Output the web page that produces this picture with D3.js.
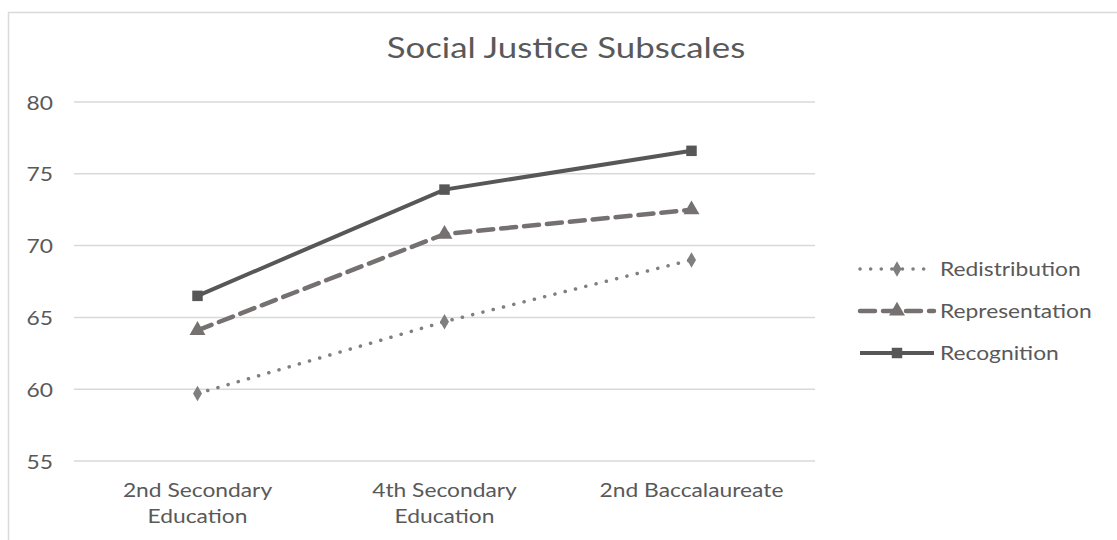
<!DOCTYPE html>
<html>
<head>
<meta charset="utf-8">
<script src="https://cdn.jsdelivr.net/npm/d3@7"></script>
<style>
  body { margin: 0; background: #fff; }
  text { font-family: Lato, "Open Sans", sans-serif; fill: #595959; }
</style>
</head>
<body>
<svg id="chart"></svg>
<script>
const width = 1117, height = 540;
const margin = { top: 102, right: 302, bottom: 79, left: 74 };
const stretch = 1.2; // text in the reference is wide

// Data
const categories = ["2nd Secondary Education", "4th Secondary Education", "2nd Baccalaureate"];
const categoryLines = [["2nd Secondary", "Education"], ["4th Secondary", "Education"], ["2nd Baccalaureate"]];
const yTicks = [55, 60, 65, 70, 75, 80];
const seriesNames = ["Redistribution", "Representation", "Recognition"];
const redistribution = [59.7, 64.7, 69.0];
const representation = [64.1, 70.8, 72.5];
const recognition = [66.5, 73.9, 76.6];

const series = [
  { name: seriesNames[0], values: redistribution, color: "#7f7f7f", width: 3.5, dash: "0.1,10.5", cap: "round", marker: "diamond" },
  { name: seriesNames[1], values: representation, color: "#767171", width: 4.5, dash: "15,8", cap: "round", marker: "triangle" },
  { name: seriesNames[2], values: recognition, color: "#575757", width: 4, dash: null, cap: "butt", marker: "square" }
];

const svg = d3.select("#chart")
  .attr("width", width)
  .attr("height", height);

// chart border
svg.append("rect")
  .attr("x", 8.5).attr("y", 12.5)
  .attr("width", 1130).attr("height", 560)
  .attr("fill", "#fff")
  .attr("stroke", "#d9d9d9")
  .attr("stroke-width", 1.5);

const plotWidth = width - margin.left - margin.right;
const plotHeight = height - margin.top - margin.bottom;

const g = svg.append("g")
  .attr("transform", `translate(${margin.left},${margin.top})`);

const x = d3.scaleBand().domain(categories).range([0, plotWidth]);
const y = d3.scaleLinear().domain([55, 80]).range([plotHeight, 0]);

// place a horizontally stretched text
function label(parent, px, py, str, size, anchor) {
  return parent.append("text")
    .attr("transform", `translate(${px},${py}) scale(${stretch},1)`)
    .attr("text-anchor", anchor)
    .style("font-size", size + "px")
    .text(str);
}

// gridlines
g.append("g")
  .selectAll("line")
  .data(yTicks)
  .join("line")
  .attr("x1", 0).attr("x2", plotWidth)
  .attr("y1", d => y(d)).attr("y2", d => y(d))
  .attr("stroke", "#d9d9d9")
  .attr("stroke-width", 1.5);

// y axis labels
const yAxis = g.append("g")
  .call(d3.axisLeft(y).tickValues(yTicks).tickSize(0).tickFormat(""));
yAxis.select(".domain").remove();
yAxis.selectAll(".tick").each(function (d) {
  label(d3.select(this), -21, 7, d, 19, "end");
});

// x axis labels
const xAxis = g.append("g")
  .attr("transform", `translate(0,${plotHeight})`)
  .call(d3.axisBottom(x).tickSize(0).tickFormat(""));
xAxis.select(".domain").remove();
xAxis.selectAll(".tick").each(function (d, i) {
  const tick = d3.select(this);
  categoryLines[i].forEach((line, j) => {
    label(tick, 0, 36 + j * 26, line, 19, "middle");
  });
});

const cx = (i) => x(categories[i]) + x.bandwidth() / 2;

const symbolFor = {
  diamond: d3.symbol().type(d3.symbolDiamond).size(70),
  triangle: d3.symbol().type(d3.symbolTriangle).size(110),
  square: d3.symbol().type(d3.symbolSquare).size(110)
};

const line = d3.line()
  .x((d, i) => cx(i))
  .y(d => y(d));

series.forEach(s => {
  g.append("path")
    .datum(s.values)
    .attr("fill", "none")
    .attr("stroke", s.color)
    .attr("stroke-width", s.width)
    .attr("stroke-linecap", s.cap)
    .attr("stroke-dasharray", s.dash)
    .attr("d", line);
  g.selectAll(null)
    .data(s.values)
    .join("path")
    .attr("transform", (d, i) => `translate(${cx(i)},${y(d)})`)
    .attr("d", symbolFor[s.marker])
    .attr("fill", s.color);
});

// title
label(svg, 566, 58, "Social Justice Subscales", 29, "middle");

// legend
const legend = svg.append("g").attr("transform", "translate(858,269)");
series.forEach((s, i) => {
  const row = legend.append("g").attr("transform", `translate(0,${i * 42})`);
  row.append("line")
    .attr("x1", 2).attr("x2", 76)
    .attr("y1", 0).attr("y2", 0)
    .attr("stroke", s.color)
    .attr("stroke-width", s.width)
    .attr("stroke-linecap", s.cap)
    .attr("stroke-dasharray", s.dash);
  row.append("path")
    .attr("transform", "translate(39,0)")
    .attr("d", symbolFor[s.marker])
    .attr("fill", s.color);
  label(row, 82, 7, s.name, 19, "start");
});
</script>
</body>
</html>
